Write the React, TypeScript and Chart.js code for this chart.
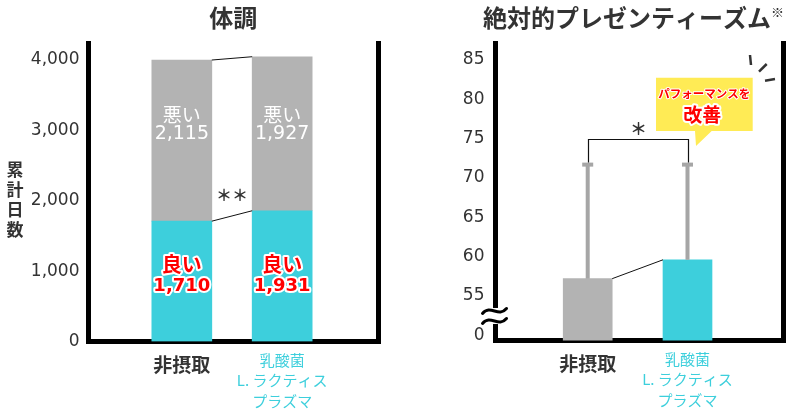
import { useEffect, useRef } from "react";
import { Chart, registerables } from "chart.js";

Chart.register(...registerables);

const NUM_FONT = "'DejaVu Sans', 'Noto Sans CJK JP', sans-serif";
const JP_FONT = "'Noto Sans CJK JP', sans-serif";
const DARK = "#333333";
const GRAY = "#b3b3b3";
const CYAN = "#3dcfdc";
const RED = "#ff0000";

// categories, shared by both panels
const groupLabels = [["非摂取"], ["乳酸菌", "L. ラクティス", "プラズマ"]];
const groupPos = [0, 1];

// 体調 – cumulative days (heights as drawn, labels as printed)
const goodDays = [1710, 1858];
const badDays = [2290, 2189];
const goodLabels = ["1,710", "1,931"];
const badLabels = ["2,115", "1,927"];
const dayTicks = [0, 1000, 2000, 3000, 4000];
const dayTickLabels = ["0", "1,000", "2,000", "3,000", "4,000"];

// 絶対的プレゼンティーズム – broken axis, 50 is printed as 0
const presScore = [57.2, 59.6];
const presErrTop = [71.7, 71.7];
const presTicks = [50, 55, 60, 65, 70, 75, 80, 85];
const presTickLabels = ["0", "55", "60", "65", "70", "75", "80", "85"];
const presSigAt = 75;

const xAxis = (min: number, max: number, height: number) => ({
  type: "linear" as const,
  min,
  max,
  offset: false,
  bounds: "data" as const,
  z: 1,
  afterBuildTicks: (s: any) => {
    s.ticks = groupPos.map((value) => ({ value }));
  },
  afterFit: (s: any) => {
    s.height = height;
  },
  grid: { display: false, drawTicks: false, lineWidth: 5 },
  border: { display: true, color: "#000", width: 5 },
  ticks: {
    autoSkip: false,
    maxRotation: 0,
    padding: 8,
    callback: (_v: any, i: number) => groupLabels[i],
    color: (c: any) => (c.index === 1 ? CYAN : DARK),
    font: (c: any) =>
      c.index === 1
        ? { family: JP_FONT, size: 15, lineHeight: 1.38 }
        : { family: JP_FONT, size: 19, weight: "bold", lineHeight: 1.58 },
  },
});

const yAxis = (min: number, max: number, ticks: number[], labels: string[], width: number, padding: number) => ({
  min,
  max,
  bounds: "data" as const,
  afterBuildTicks: (s: any) => {
    s.ticks = ticks.map((value) => ({ value }));
  },
  afterFit: (s: any) => {
    s.width = width;
  },
  grid: { display: false, drawTicks: false, lineWidth: 5 },
  border: { display: true, color: "#000", width: 5 },
  ticks: {
    padding,
    color: DARK,
    font: { family: NUM_FONT, size: 17 },
    callback: (_v: any, i: number) => labels[i],
  },
});

const frameAxis = (width: number) => ({
  position: "right" as const,
  min: 0,
  max: 1,
  afterFit: (s: any) => {
    s.width = width;
  },
  grid: { display: false, drawTicks: false, lineWidth: 5 },
  border: { display: true, color: "#000", width: 5 },
  ticks: { display: false },
});

const outlined = (ctx: CanvasRenderingContext2D, text: string, x: number, y: number, w: number) => {
  ctx.lineJoin = "round";
  ctx.lineWidth = w;
  ctx.strokeStyle = "#fff";
  ctx.strokeText(text, x, y);
  ctx.fillText(text, x, y);
};

const healthPlugin = {
  id: "healthMarks",
  afterDatasetsDraw(chart: Chart) {
    const { ctx, chartArea: a } = chart;
    const good = chart.getDatasetMeta(0).data as any[];
    const bad = chart.getDatasetMeta(1).data as any[];
    ctx.save();
    ctx.strokeStyle = "#111";
    ctx.lineWidth = 1;
    [bad, good].forEach(([p, q]) => {
      ctx.beginPath();
      ctx.moveTo(p.x + p.width / 2, p.y);
      ctx.lineTo(q.x - q.width / 2, q.y);
      ctx.stroke();
    });
    ctx.textAlign = "center";
    ctx.textBaseline = "middle";
    ctx.fillStyle = DARK;
    ctx.font = `bold 16px ${JP_FONT}`;
    ctx.fillText("＊＊", (good[0].x + good[1].x) / 2, (good[0].y + good[1].y) / 2 - 21);

    bad.forEach((b, i) => {
      ctx.fillStyle = "#fff";
      ctx.font = `19px ${JP_FONT}`;
      ctx.fillText("悪い", b.x, a.top + 72);
      ctx.font = `19px ${NUM_FONT}`;
      ctx.fillText(badLabels[i], b.x, a.top + 91);
    });
    good.forEach((b, i) => {
      ctx.fillStyle = RED;
      ctx.font = `bold 20px ${JP_FONT}`;
      outlined(ctx, "良い", b.x, b.base - 77.5, 4);
      ctx.font = `bold 18px ${NUM_FONT}`;
      outlined(ctx, goodLabels[i], b.x, b.base - 55.5, 4);
    });
    ctx.restore();
  },
  afterDraw(chart: Chart) {
    const { ctx, chartArea: a } = chart;
    ctx.save();
    ctx.textAlign = "center";
    ctx.textBaseline = "middle";
    ctx.fillStyle = DARK;
    ctx.font = `bold 24px ${JP_FONT}`;
    ctx.fillText("体調", (a.left + a.right) / 2, 17.5);
    ctx.font = `bold 17px ${JP_FONT}`;
    ["累", "計", "日", "数"].forEach((ch, i) => ctx.fillText(ch, 15, a.top + 127 + i * 20));
    ctx.restore();
  },
};

const presPlugin = {
  id: "presMarks",
  afterDatasetsDraw(chart: Chart) {
    const { ctx } = chart;
    const y = chart.scales.y;
    const bars = chart.getDatasetMeta(0).data as any[];
    ctx.save();
    ctx.fillStyle = "#a6a6a6";
    bars.forEach((b, i) => {
      const top = y.getPixelForValue(presErrTop[i]);
      ctx.fillRect(b.x - 2, top, 4, b.y - top);
      ctx.fillRect(b.x - 5.5, top - 2, 11, 4);
    });
    ctx.strokeStyle = "#111";
    ctx.lineWidth = 1;
    ctx.beginPath();
    ctx.moveTo(bars[0].x + bars[0].width / 2, bars[0].y);
    ctx.lineTo(bars[1].x - bars[1].width / 2, bars[1].y);
    ctx.stroke();

    const by = Math.round(y.getPixelForValue(presSigAt)) + 0.5;
    const x0 = Math.round(bars[0].x) + 0.5;
    const x1 = Math.round(bars[1].x) + 0.5;
    ctx.lineWidth = 1.2;
    ctx.beginPath();
    ctx.moveTo(x0, y.getPixelForValue(presErrTop[0]) - 2);
    ctx.lineTo(x0, by);
    ctx.lineTo(x1, by);
    ctx.lineTo(x1, y.getPixelForValue(presErrTop[1]) - 2);
    ctx.stroke();
    ctx.fillStyle = DARK;
    ctx.textAlign = "center";
    ctx.textBaseline = "middle";
    ctx.font = `bold 17px ${JP_FONT}`;
    ctx.fillText("＊", (x0 + x1) / 2, by - 10.5);
    ctx.restore();
  },
  afterDraw(chart: Chart) {
    const { ctx, chartArea: a } = chart;
    const y = chart.scales.y;
    ctx.save();
    // title with superscript mark
    const main = "絶対的プレゼンティーズム";
    ctx.fillStyle = DARK;
    ctx.textBaseline = "middle";
    ctx.textAlign = "left";
    ctx.font = `bold 24px ${JP_FONT}`;
    const w1 = ctx.measureText(main).width;
    ctx.font = `13px ${JP_FONT}`;
    const w2 = ctx.measureText("※").width;
    const sx = (a.left + a.right) / 2 - 6 - (w1 + w2) / 2;
    ctx.font = `bold 24px ${JP_FONT}`;
    ctx.fillText(main, sx, 17.5);
    ctx.font = `13px ${JP_FONT}`;
    ctx.fillText("※", sx + w1, 12);

    // axis break
    const yb = y.getPixelForValue(55);
    ctx.fillStyle = "#fff";
    ctx.fillRect(a.left - 4, yb + 12, 8, 16);
    ctx.strokeStyle = "#000";
    ctx.lineWidth = 3;
    ctx.lineCap = "round";
    [yb + 15, yb + 25].forEach((yc) => {
      const L = a.left - 13;
      const R = a.left + 11;
      ctx.beginPath();
      ctx.moveTo(L, yc + 2.5);
      ctx.bezierCurveTo(L + 8, yc - 7, R - 8, yc + 7, R, yc - 2.5);
      ctx.stroke();
    });

    // callout
    const bl = a.right - 127.5;
    const br = a.right - 30.8;
    const bt = a.top + 34.7;
    const bb = a.top + 88;
    ctx.fillStyle = "#ffeb55";
    ctx.beginPath();
    ctx.moveTo(bl, bt);
    ctx.lineTo(br, bt);
    ctx.lineTo(br, bb);
    ctx.lineTo(bl + 55.7, bb);
    ctx.lineTo(bl + 40, bb + 15);
    ctx.lineTo(bl + 39, bb);
    ctx.lineTo(bl, bb);
    ctx.closePath();
    ctx.fill();
    ctx.textAlign = "center";
    ctx.fillStyle = RED;
    ctx.font = `bold 11.5px ${JP_FONT}`;
    outlined(ctx, "パフォーマンスを", (bl + br) / 2, bt + 16.3, 2);
    ctx.font = `bold 19px ${JP_FONT}`;
    outlined(ctx, "改善", (bl + br) / 2 - 2, bt + 37, 4);

    // burst dashes
    ctx.strokeStyle = DARK;
    ctx.lineWidth = 2.5;
    ctx.lineCap = "butt";
    const dashes = [
      [-33.5, 12, -32.5, 22],
      [-24.5, 28.7, -16.8, 21],
      [-18.5, 37.7, -8.5, 36],
    ];
    dashes.forEach(([ax, ay, bx, by]) => {
      ctx.beginPath();
      ctx.moveTo(a.right + ax, a.top + ay);
      ctx.lineTo(a.right + bx, a.top + by);
      ctx.stroke();
    });
    ctx.restore();
  },
};

export default function App() {
  const leftRef = useRef<HTMLCanvasElement | null>(null);
  const rightRef = useRef<HTMLCanvasElement | null>(null);

  useEffect(() => {
    if (!leftRef.current || !rightRef.current) return;

    const left = new Chart(leftRef.current, {
      type: "bar",
      data: {
        datasets: [
          {
            label: "良い",
            data: goodDays.map((v, i) => ({ x: groupPos[i], y: v })),
            backgroundColor: CYAN,
            stack: "days",
            barThickness: 60,
          },
          {
            label: "悪い",
            data: badDays.map((v, i) => ({ x: groupPos[i], y: v })),
            backgroundColor: GRAY,
            stack: "days",
            barThickness: 60,
          },
        ],
      },
      options: {
        responsive: false,
        animation: false,
        layout: { padding: { top: 43, left: 0, right: 0, bottom: 0 } },
        plugins: { legend: { display: false }, tooltip: { enabled: false } },
        scales: {
          x: xAxis(-0.93, 1.955, 72.5),
          y: { ...yAxis(0, 4242, dayTicks, dayTickLabels, 88.5, 9), stacked: true },
          y2: frameAxis(22),
        },
      } as any,
      plugins: [healthPlugin],
    });

    const right = new Chart(rightRef.current, {
      type: "bar",
      data: {
        datasets: [
          {
            label: "絶対的プレゼンティーズム",
            data: presScore.map((v, i) => ({ x: groupPos[i], y: v })),
            backgroundColor: [GRAY, CYAN],
            barThickness: 49,
          },
        ],
      },
      options: {
        responsive: false,
        animation: false,
        layout: { padding: { top: 43, left: 0, right: 0, bottom: 0 } },
        plugins: { legend: { display: false }, tooltip: { enabled: false } },
        scales: {
          x: xAxis(-0.924, 1.962, 73.5),
          y: yAxis(49.34, 87.16, presTicks, presTickLabels, 95.5, 11),
          y2: frameAxis(16.5),
        },
      } as any,
      plugins: [presPlugin],
    });

    return () => {
      left.destroy();
      right.destroy();
    };
  }, []);

  return (
    <div style={{ position: "absolute", left: 0, top: 0, width: 800, height: 414, background: "#fff" }}>
      <canvas
        ref={leftRef}
        width={400}
        height={414}
        style={{ position: "absolute", left: 0, top: 0, width: 400, height: 414 }}
      />
      <canvas
        ref={rightRef}
        width={400}
        height={414}
        style={{ position: "absolute", left: 400, top: 0, width: 400, height: 414 }}
      />
    </div>
  );
}
